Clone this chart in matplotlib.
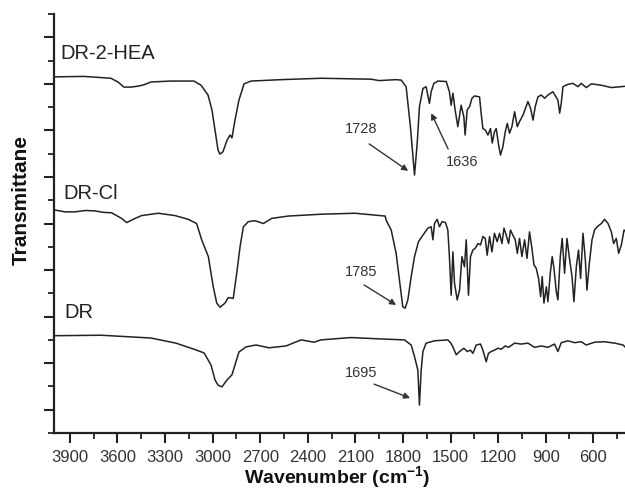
import numpy as np
import matplotlib.pyplot as plt
from matplotlib.ticker import MultipleLocator

plt.rcParams['font.family'] = ['Liberation Sans', 'DejaVu Sans']

# Spectra: wavenumber (cm-1) and offset transmittance
hea_wn = [3995, 3812, 3641, 3597, 3559, 3515, 3471, 3433, 3389, 3263, 3118, 3073, 3029, 3004,
          2985, 2966, 2954, 2935, 2909, 2890, 2878, 2859, 2834, 2802, 2758, 2569, 2316, 2001,
          1950, 1843, 1811, 1780, 1753, 1727, 1710, 1696, 1674, 1654, 1633, 1622, 1605, 1580,
          1527, 1507, 1496, 1485, 1471, 1454, 1433, 1416, 1408, 1395, 1380, 1365, 1349, 1317,
          1307, 1296, 1281, 1264, 1248, 1237, 1223, 1212, 1197, 1185, 1170, 1155, 1142, 1128,
          1113, 1096, 1079, 1065, 1043, 1012, 995, 980, 966, 949, 928, 907, 886, 854, 823, 812,
          802, 791, 760, 728, 696, 676, 644, 612, 549, 486, 423, 392]
hea_t = [7.65, 7.66, 7.62, 7.54, 7.43, 7.43, 7.45, 7.48, 7.54, 7.56, 7.56, 7.47, 7.26, 6.94,
         6.51, 6.08, 5.99, 6.04, 6.29, 6.40, 6.34, 6.72, 7.15, 7.50, 7.56, 7.59, 7.62, 7.60,
         7.57, 7.59, 7.58, 7.44, 6.58, 5.54, 6.23, 7.01, 7.40, 7.44, 7.08, 7.33, 7.51, 7.56,
         7.55, 7.33, 7.04, 7.30, 6.94, 6.58, 7.04, 6.79, 6.40, 6.94, 7.01, 7.19, 7.24, 7.22,
         6.87, 6.54, 6.51, 6.40, 6.54, 6.23, 6.47, 6.54, 6.19, 5.97, 6.15, 6.47, 6.65, 6.44,
         6.58, 6.90, 6.58, 6.69, 6.83, 7.12, 6.97, 6.72, 7.01, 7.22, 7.26, 7.19, 7.26, 7.33, 7.15, 6.87,
         7.08, 7.44, 7.49, 7.51, 7.44, 7.51, 7.42, 7.50, 7.47, 7.42, 7.44, 7.45]

cl_wn = [3995, 3930, 3868, 3800, 3742, 3690, 3637, 3574, 3542, 3501, 3448, 3343, 3237, 3154,
         3101, 3069, 3027, 2996, 2974, 2953, 2922, 2901, 2870, 2848, 2827, 2806, 2775, 2733,
         2680, 2627, 2523, 2312, 2102, 1975, 1912, 1906, 1874, 1843, 1822, 1801, 1786, 1769,
         1748, 1727, 1702, 1674, 1643, 1622, 1611, 1601, 1584, 1570, 1553, 1532, 1517, 1507,
         1496, 1485, 1475, 1458, 1443, 1428, 1412, 1401, 1387, 1374, 1359, 1344, 1327, 1311,
         1296, 1281, 1269, 1254, 1239, 1223, 1206, 1191, 1176, 1163, 1149, 1134, 1122, 1107,
         1092, 1079, 1065, 1050, 1033, 1018, 1002, 987, 974, 960, 945, 932, 922, 911, 896, 886,
         871, 859, 848, 833, 823, 808, 796, 781, 766, 749, 734, 722, 707, 693, 680, 665, 650,
         640, 625, 608, 592, 575, 549, 529, 507, 486, 472, 455, 440, 423, 406, 392]
cl_t = [4.79, 4.75, 4.75, 4.78, 4.77, 4.74, 4.73, 4.61, 4.52, 4.59, 4.67, 4.72, 4.67, 4.59,
        4.50, 4.15, 3.79, 3.14, 2.79, 2.70, 2.79, 2.91, 2.89, 3.43, 4.00, 4.43, 4.54, 4.56,
        4.50, 4.61, 4.66, 4.70, 4.72, 4.68, 4.66, 4.57, 4.36, 3.86, 3.29, 2.71, 2.68, 2.86,
        3.36, 3.79, 4.11, 4.25, 4.40, 4.43, 4.15, 4.50, 4.59, 4.43, 4.54, 4.52, 4.36, 3.79,
        2.96, 3.89, 3.22, 2.86, 3.07, 3.79, 3.57, 4.15, 2.96, 3.79, 3.93, 3.97, 4.07, 4.04,
        4.22, 4.18, 3.82, 4.22, 3.89, 4.29, 4.11, 4.29, 4.07, 4.40, 4.25, 4.07, 4.36, 4.25,
        4.15, 3.86, 4.18, 3.79, 4.15, 3.75, 4.32, 3.97, 3.61, 3.54, 3.32, 2.93, 3.36, 2.79, 3.14, 2.82,
        3.43, 3.79, 3.54, 3.03, 2.86, 3.79, 4.18, 3.43, 4.18, 3.72, 3.36, 2.82, 3.57, 3.93, 3.32, 4.29, 3.72,
        3.07, 3.64, 4.15, 4.36, 4.43, 4.50, 4.59, 4.50, 4.32, 4.07, 4.18, 3.86, 4.04, 4.36, 4.32]

dr_wn = [3995, 3704, 3389, 3231, 3118, 3054, 3010, 2985, 2966, 2941, 2909, 2878, 2859, 2834,
         2789, 2726, 2644, 2537, 2442, 2360, 2316, 2127, 1938, 1791, 1748, 1727, 1706, 1696,
         1685, 1674, 1654, 1601, 1517, 1500, 1485, 1464, 1443, 1416, 1395, 1374, 1359, 1338,
         1311, 1296, 1275, 1261, 1244, 1223, 1201, 1180, 1155, 1134, 1096, 1054, 1012, 970,
         928, 886, 844, 823, 802, 760, 718, 676, 644, 592, 529, 465, 412, 392]
dr_t = [2.09, 2.10, 2.04, 1.93, 1.80, 1.72, 1.46, 1.14, 1.03, 0.99, 1.14, 1.25, 1.46, 1.74,
        1.85, 1.89, 1.83, 1.87, 2.00, 1.95, 2.00, 2.05, 2.02, 2.00, 1.89, 1.64, 1.35, 0.60,
        1.35, 1.75, 1.93, 1.98, 2.00, 1.94, 1.85, 1.68, 1.75, 1.82, 1.75, 1.78, 1.71, 1.89,
        1.91, 1.78, 1.53, 1.71, 1.75, 1.78, 1.82, 1.80, 1.87, 1.84, 1.93, 1.91, 1.93, 1.84,
        1.87, 1.84, 1.91, 1.75, 1.94, 1.98, 1.94, 1.96, 1.89, 1.95, 1.96, 1.93, 1.89, 1.82]

names = ["DR-2-HEA", "DR-Cl", "DR"]
peaks = ["1728", "1636", "1785", "1695"]

ink = "#222222"
fig = plt.figure(figsize=(6.25, 4.97), dpi=100)
ax = fig.add_axes([0.0864, 0.1288, 0.9136, 0.843])

for wn, t in [(hea_wn, hea_t), (cl_wn, cl_t), (dr_wn, dr_t)]:
    ax.plot(wn, t, color=ink, lw=1.1)

ax.set_xlim(4000, 400)
ax.set_ylim(0, 9)

# sample labels
ax.text(3957, 8.15, names[0], fontsize=14.5, va="center", ha="left", color=ink)
ax.text(3938, 5.15, names[1], fontsize=14.5, va="center", ha="left", color=ink)
ax.text(3932, 2.58, names[2], fontsize=14.5, va="center", ha="left", color=ink)

# peak annotations: (label position, arrow start, arrow tip)
notes = [
    ((2064, 6.53), (2013, 6.21), (1767, 5.63)),
    ((1427, 5.82), (1515, 6.10), (1622, 6.87)),
    ((2064, 3.46), (2045, 3.18), (1843, 2.75)),
    ((2064, 1.29), (1982, 1.05), (1755, 0.75)),
]
for lab, (tp, start, tip) in zip(peaks, notes):
    ax.text(tp[0], tp[1], lab, fontsize=10.5, ha="center", va="center", color="#333333")
    ax.annotate("", xy=tip, xytext=start,
                arrowprops=dict(arrowstyle="-|>", color="#333333", lw=1.0,
                                mutation_scale=9, shrinkA=0, shrinkB=0))

ax.xaxis.set_major_locator(MultipleLocator(300))
ax.xaxis.set_minor_locator(MultipleLocator(150))
ax.set_xticks(np.arange(600, 4000, 300))
ax.set_yticks(np.arange(0.5, 9, 1.0))
ax.set_yticks(np.arange(0, 9.1, 1.0), minor=True)
ax.set_yticklabels([])

for side in ["top", "right"]:
    ax.spines[side].set_visible(False)
for side in ["left", "bottom"]:
    ax.spines[side].set_linewidth(1.6)
    ax.spines[side].set_color(ink)

ax.tick_params(which="major", direction="out", length=7, width=1.5, color=ink,
               labelsize=12, labelcolor="#333333", pad=5)
ax.tick_params(which="minor", direction="out", length=4, width=1.3, color=ink)

ax.set_xlabel("Wavenumber (cm$^{\\mathregular{-1}}$)", fontsize=14, fontweight="bold",
              color="#111111")
ax.xaxis.set_label_coords(0.496, -0.075)
ax.set_ylabel("Transmittane", fontsize=15, fontweight="bold", color="#111111")
ax.yaxis.set_label_coords(-0.04, 0.556)

fig.savefig("out.png", dpi=100)
